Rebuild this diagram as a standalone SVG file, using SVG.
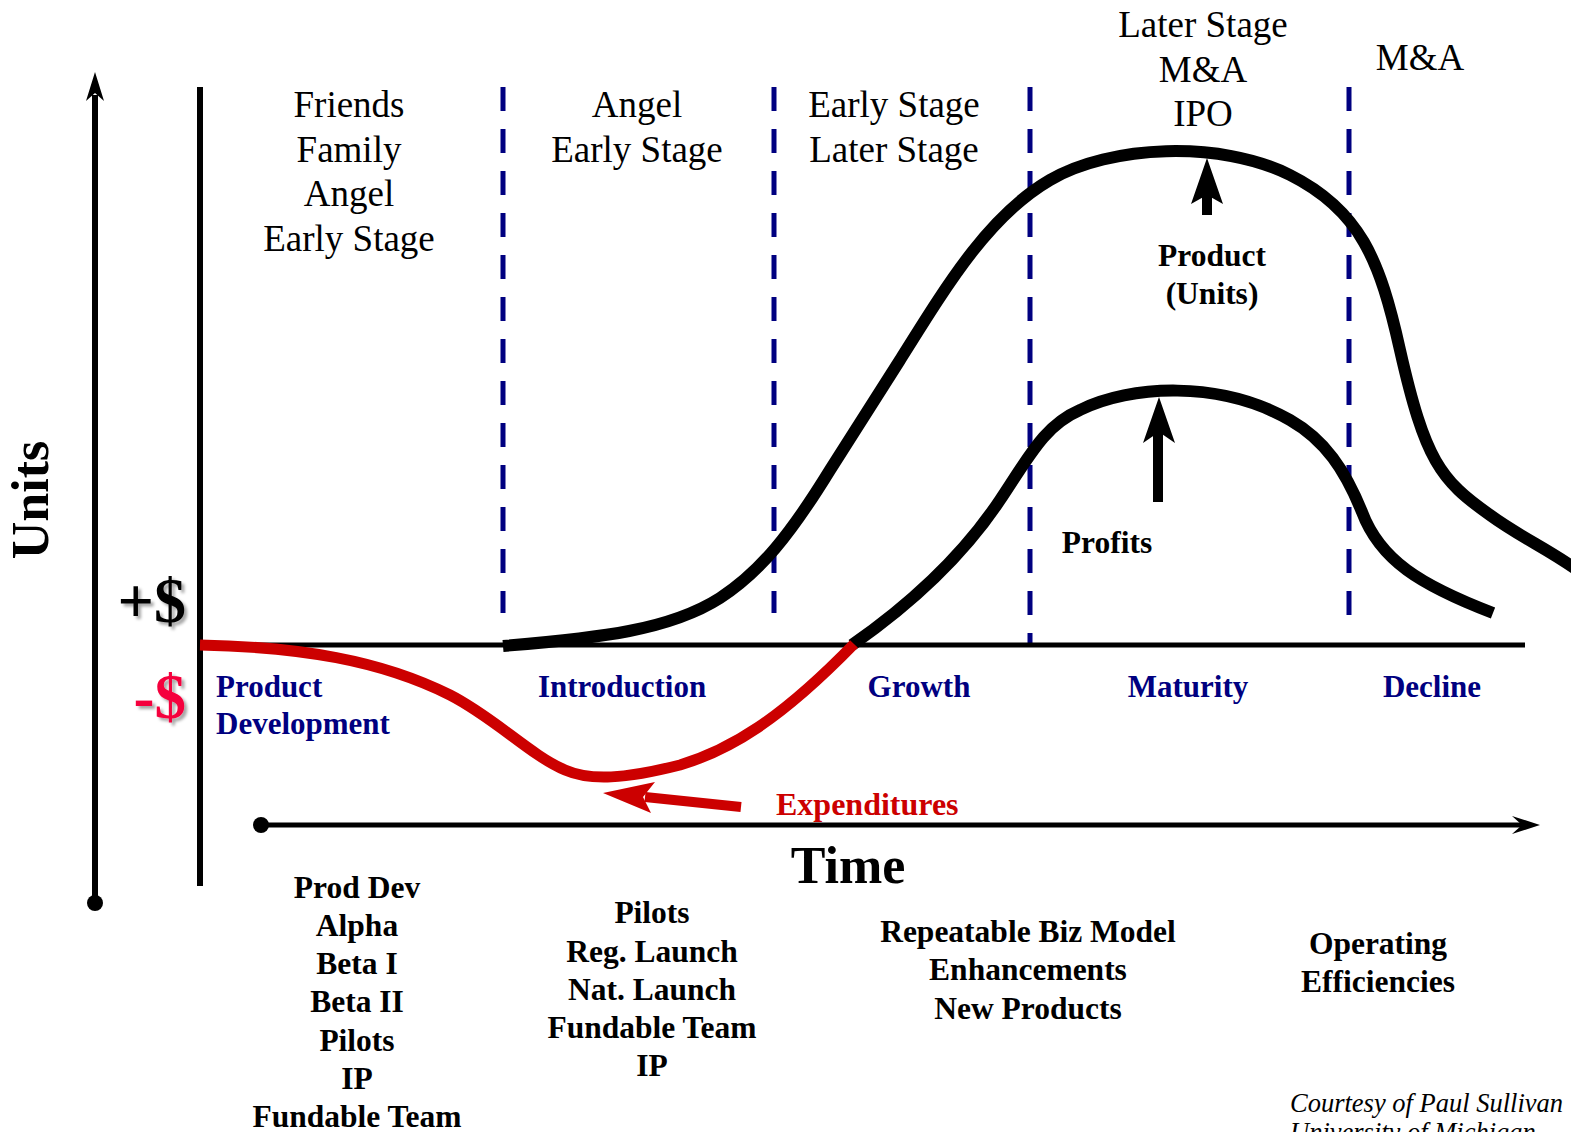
<svg xmlns="http://www.w3.org/2000/svg" width="1571" height="1132" viewBox="0 0 1571 1132">
  <defs>
    <style>
      .serif { font-family: "Liberation Serif", "Times New Roman", serif; }
      .stage { font-size: 37px; fill: #000; text-anchor: middle; }
      .phase { font-size: 31px; font-weight: bold; fill: #000080; }
      .note { font-size: 31.5px; font-weight: bold; fill: #000; text-anchor: middle; }
      .curve { fill: none; stroke-linecap: butt; stroke-linejoin: round; }
      .divider { stroke: #000080; stroke-width: 5; stroke-dasharray: 24 18; fill: none; }
      .axis { stroke: #000; fill: none; }
    </style>
    <filter id="softShadow" x="-20%" y="-20%" width="140%" height="140%">
      <feDropShadow dx="3" dy="3" stdDeviation="1.5" flood-color="#000" flood-opacity="0.35"/>
    </filter>
  </defs>

  <rect width="1571" height="1132" fill="#fff"/>

  <!-- stage dividers -->
  <g id="dividers">
    <line class="divider" x1="503" y1="87" x2="503" y2="613"/>
    <line class="divider" x1="774" y1="87" x2="774" y2="613"/>
    <line class="divider" x1="1030" y1="87" x2="1030" y2="645"/>
    <line class="divider" x1="1349" y1="87" x2="1349" y2="615"/>
  </g>

  <!-- axes -->
  <g id="axes">
    <line class="axis" x1="95" y1="95" x2="95" y2="903" stroke-width="6"/>
    <polygon points="95,72 104,101 95,93 86,101" fill="#000"/>
    <circle cx="95" cy="903" r="8" fill="#000"/>
    <line class="axis" x1="200" y1="87" x2="200" y2="886" stroke-width="6"/>
    <line class="axis" x1="200" y1="645" x2="1525" y2="645" stroke-width="5"/>
    <line class="axis" x1="261" y1="825" x2="1522" y2="825" stroke-width="5"/>
    <polygon points="1540,825 1512,816 1522,825 1512,834" fill="#000"/>
    <circle cx="261" cy="825" r="8" fill="#000"/>
  </g>

  <!-- curves and pointers -->
  <g id="connectors">
    <path id="product-curve" class="curve" stroke="#000" stroke-width="12"
          d="M503,646 C600,638 670,630 720,598 C760,572 790,535 830,470 L900,360 C950,280 990,215 1050,180 C1110,145 1220,140 1290,175 C1360,210 1380,260 1400,350 C1425,460 1440,480 1490,515 C1520,537 1550,550 1580,572"/>
    <path id="profit-curve" class="curve" stroke="#000" stroke-width="12"
          d="M852,645 C905,608 960,560 1000,500 C1030,455 1045,425 1080,410 C1130,385 1220,380 1290,420 C1325,440 1345,470 1362,512 C1380,560 1420,585 1493,613"/>
    <path id="expenditure-curve" class="curve" stroke="#CC0000" stroke-width="11"
          d="M200,645 C300,647 380,660 450,695 C495,718 530,755 565,770 C590,781 625,779 680,765 C730,750 780,720 854,644"/>

    <g id="units-pointer">
      <rect x="1202" y="192" width="10" height="23" fill="#000"/>
      <polygon points="1207,158 1223,204 1207,195 1191,204" fill="#000"/>
    </g>
    <g id="profits-pointer">
      <rect x="1153" y="430" width="10" height="72" fill="#000"/>
      <polygon points="1159,397 1175,443 1159,432 1143,443" fill="#000"/>
    </g>
    <g id="expenditures-pointer">
      <line x1="645" y1="797" x2="741" y2="807" stroke="#CC0000" stroke-width="10"/>
      <polygon points="603,793 655,782 643,797 651,813" fill="#CC0000"/>
    </g>
  </g>

  <!-- funding sources per stage -->
  <g id="funding-seed" class="serif stage">
    <text x="349" y="117">Friends</text>
    <text x="349" y="161.5">Family</text>
    <text x="349" y="206">Angel</text>
    <text x="349" y="250.5">Early Stage</text>
  </g>
  <g id="funding-intro" class="serif stage">
    <text x="637" y="117">Angel</text>
    <text x="637" y="161.5">Early Stage</text>
  </g>
  <g id="funding-growth" class="serif stage">
    <text x="894" y="117">Early Stage</text>
    <text x="894" y="161.5">Later Stage</text>
  </g>
  <g id="funding-maturity" class="serif stage">
    <text x="1203" y="37">Later Stage</text>
    <text x="1203" y="82">M&amp;A</text>
    <text x="1203" y="126">IPO</text>
  </g>
  <g id="funding-decline" class="serif stage">
    <text x="1420" y="70">M&amp;A</text>
  </g>

  <!-- curve labels -->
  <g id="label-units" class="serif note">
    <text x="1212" y="266">Product</text>
    <text x="1212" y="304">(Units)</text>
  </g>
  <g id="label-profits" class="serif note">
    <text x="1107" y="553">Profits</text>
  </g>
  <g id="label-expenditures" class="serif">
    <text x="776" y="815" font-size="32" font-weight="bold" fill="#CC0000">Expenditures</text>
  </g>

  <!-- axis labels -->
  <g id="axis-labels" class="serif" font-weight="bold">
    <text transform="translate(48,500) rotate(-90)" font-size="52" text-anchor="middle" fill="#000">Units</text>
    <text x="186" y="622" font-size="64" text-anchor="end" fill="#000" filter="url(#softShadow)">+$</text>
    <text x="186" y="718" font-size="63" text-anchor="end" fill="#F5003D" filter="url(#softShadow)">-$</text>
    <text x="848" y="883" font-size="52" text-anchor="middle" fill="#000">Time</text>
  </g>

  <!-- life-cycle phases -->
  <g id="phase-development" class="serif phase">
    <text x="216" y="697">Product</text>
    <text x="216" y="734">Development</text>
  </g>
  <g id="phase-introduction" class="serif phase"><text x="622" y="697" text-anchor="middle">Introduction</text></g>
  <g id="phase-growth" class="serif phase"><text x="919" y="697" text-anchor="middle">Growth</text></g>
  <g id="phase-maturity" class="serif phase"><text x="1188" y="697" text-anchor="middle">Maturity</text></g>
  <g id="phase-decline" class="serif phase"><text x="1432" y="697" text-anchor="middle">Decline</text></g>

  <!-- milestones per phase -->
  <g id="milestones-development" class="serif note">
    <text x="357" y="898">Prod Dev</text>
    <text x="357" y="936">Alpha</text>
    <text x="357" y="974">Beta I</text>
    <text x="357" y="1012">Beta II</text>
    <text x="357" y="1051">Pilots</text>
    <text x="357" y="1089">IP</text>
    <text x="357" y="1127">Fundable Team</text>
  </g>
  <g id="milestones-introduction" class="serif note">
    <text x="652" y="923">Pilots</text>
    <text x="652" y="962">Reg. Launch</text>
    <text x="652" y="1000">Nat. Launch</text>
    <text x="652" y="1038">Fundable Team</text>
    <text x="652" y="1076">IP</text>
  </g>
  <g id="milestones-growth" class="serif note">
    <text x="1028" y="942">Repeatable Biz Model</text>
    <text x="1028" y="980">Enhancements</text>
    <text x="1028" y="1019">New Products</text>
  </g>
  <g id="milestones-maturity" class="serif note">
    <text x="1378" y="954">Operating</text>
    <text x="1378" y="992">Efficiencies</text>
  </g>

  <!-- credit -->
  <g id="credit" class="serif" font-style="italic" font-size="26.5" fill="#000">
    <text x="1290" y="1112">Courtesy of Paul Sullivan</text>
    <text x="1290" y="1141">University of Michigan</text>
  </g>
</svg>
